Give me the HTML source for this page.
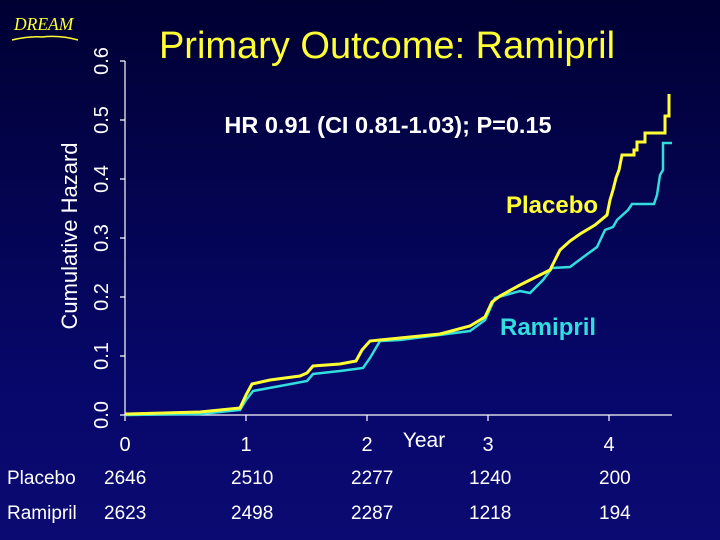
<!DOCTYPE html>
<html><head><meta charset="utf-8"><style>
html,body{margin:0;padding:0;}
body{width:720px;height:540px;overflow:hidden;background:linear-gradient(#000033,#07076a 70%,#0a0a72);}
svg{display:block;font-family:"Liberation Sans",Arial,sans-serif;}
</style></head><body>
<svg width="720" height="540" viewBox="0 0 720 540">
<text x="14" y="30" font-family="Liberation Serif,serif" font-style="italic" font-size="17.5" fill="#ffff33">DREAM</text>
<path d="M12 40 Q 30 36 42 37 Q 60 35 78 40" stroke="#ffff33" stroke-width="1.5" fill="none"/>
<text x="387" y="58" text-anchor="middle" font-size="38" fill="#ffff33">Primary Outcome: Ramipril</text>
<text x="388" y="133" text-anchor="middle" font-size="23.5" font-weight="bold" fill="#fff">HR 0.91 (CI 0.81-1.03); P=0.15</text>
<text x="506" y="213" font-size="24" font-weight="bold" fill="#ffff33">Placebo</text>
<text x="500" y="335" font-size="24" font-weight="bold" fill="#33dddd">Ramipril</text>
<text transform="translate(77,236) rotate(-90)" text-anchor="middle" font-size="22" fill="#fff">Cumulative Hazard</text>
<g stroke="#fff" stroke-width="1.2" fill="none">
<path d="M125 61 V415 H672"/>
<path d="M120 415H125M120 356H125M120 297H125M120 238H125M120 179H125M120 120H125M120 61H125"/>
<path d="M125 415V421M246 415V421M367 415V421M488 415V421M609 415V421"/>
</g>
<g fill="#fff" font-size="20" text-anchor="middle">
<text transform="translate(108,415) rotate(-90)">0.0</text>
<text transform="translate(108,356) rotate(-90)">0.1</text>
<text transform="translate(108,297) rotate(-90)">0.2</text>
<text transform="translate(108,238) rotate(-90)">0.3</text>
<text transform="translate(108,179) rotate(-90)">0.4</text>
<text transform="translate(108,120) rotate(-90)">0.5</text>
<text transform="translate(108,61) rotate(-90)">0.6</text>
<text x="125" y="451">0</text><text x="246" y="451">1</text><text x="367" y="451">2</text><text x="488" y="451">3</text><text x="609" y="451">4</text>
<text x="424" y="447" font-size="21">Year</text>
</g>
<g fill="#fff" font-size="19">
<text x="7" y="484">Placebo</text><text x="7" y="519">Ramipril</text>
<text x="104" y="484">2646</text><text x="231" y="484">2510</text><text x="351" y="484">2277</text><text x="469" y="484">1240</text><text x="599" y="484">200</text>
<text x="104" y="519">2623</text><text x="231" y="519">2498</text><text x="351" y="519">2287</text><text x="469" y="519">1218</text><text x="599" y="519">194</text>
</g>
<polyline fill="none" stroke="#33dddd" stroke-width="2.5" points="125,415 200,414 240,410 246,400 253,391 280,386 307,381 313,374 340,371 363,368 370,358 380,341 400,340 470,331 485,320 495,298 520,291 530,293 543,280 552,268 570,267 582,258 597,247 605,230 613,227 617,220 628,210 632,204 654,204 657,195 660,175 663,170 663,143 672,143"/>
<polyline fill="none" stroke="#ffff33" stroke-width="3" points="125,414 200,412 240,408 246,395 252,384 270,380 300,376 307,373 313,366 340,364 356,361 362,350 370,341 400,338 440,334 470,326 485,317 492,302 500,296 520,285 540,275 550,270 555,260 560,250 570,241 580,234 595,225 607,215 610,200 613,190 616,178 619,170 622,155 634,155 634,150 637,150 637,142 645,142 645,133 665,133 665,116 669,116 669,94"/>
</svg>
</body></html>
